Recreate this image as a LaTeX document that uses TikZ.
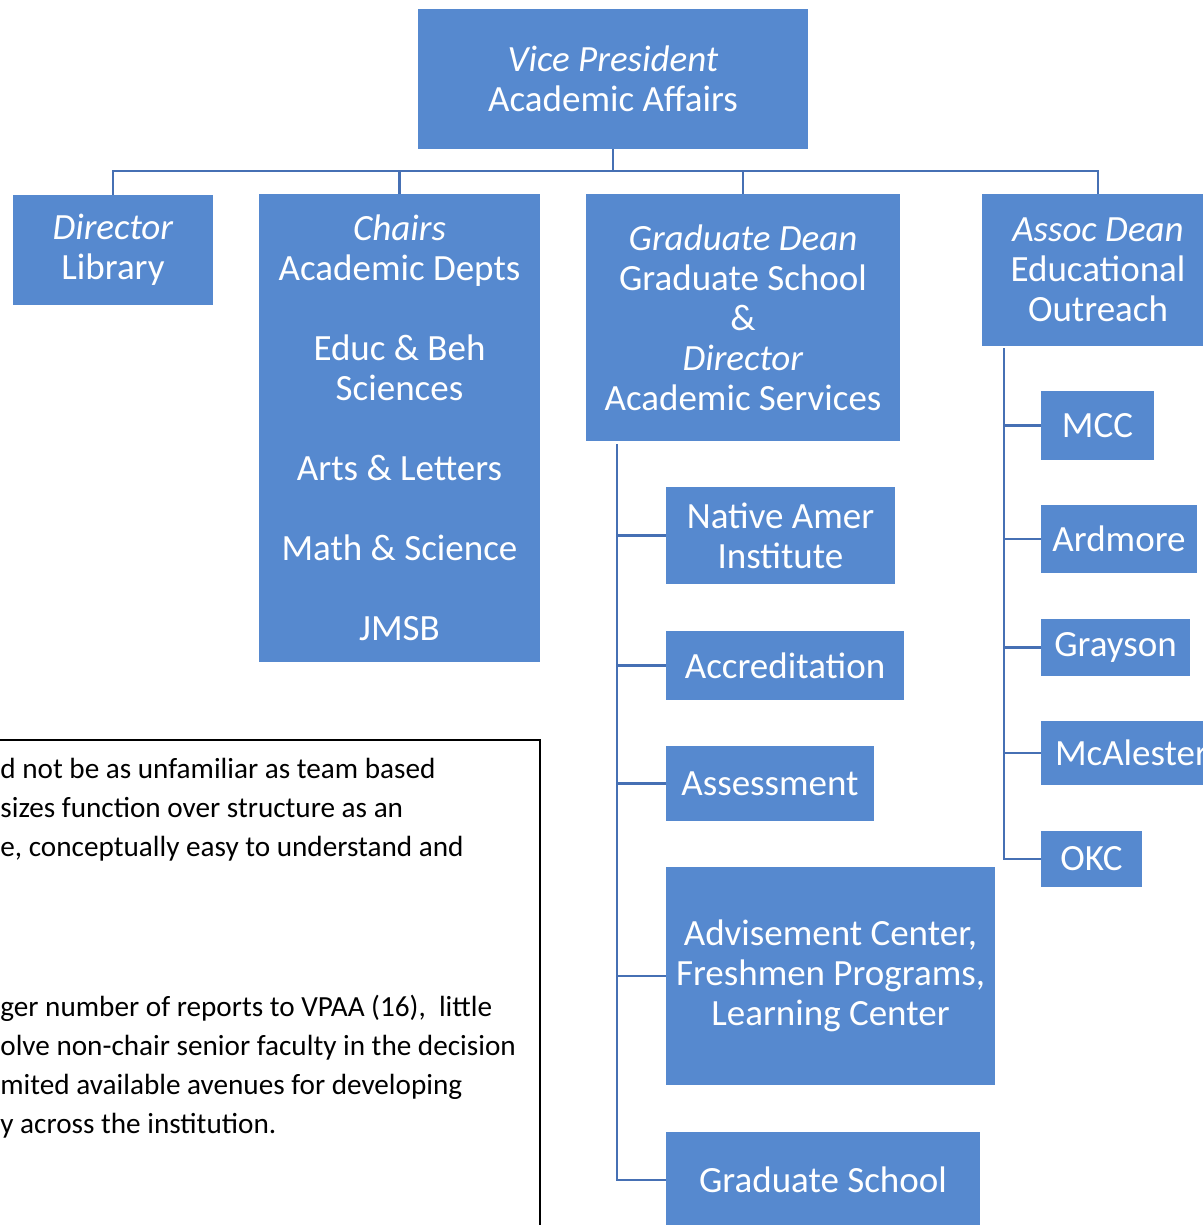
\documentclass[tikz,border=0pt]{standalone}
\usepackage{fontspec}
\setmainfont{Carlito}
\usetikzlibrary{positioning}

\definecolor{unitfill}{RGB}{86,137,207}
\definecolor{linkcol}{RGB}{70,112,180}

\tikzset{
    unit/.style={fill=unitfill, text=white, align=center, inner sep=2pt,
        font=\fontsize{18.5}{20}\selectfont},
    link/.style={draw=linkcol, line width=1.2pt},
    notetext/.style={align=left, anchor=north west, inner sep=0pt,
        font=\fontsize{14.6}{19.5}\selectfont}
}

\begin{document}
\begin{tikzpicture}[x=0.5pt, y=-0.5pt]
                \useasboundingbox (0,0) rectangle (1203,1225);
                \clip (0,0) rectangle (1203,1225);

                % top level
                \node[unit, minimum width=195pt, minimum height=70pt] (vp) at (613,79) {\textit{Vice President}\\Academic Affairs};

                \node[unit, minimum width=100pt, minimum height=55pt] (lib) at (113,250) {\textit{Director}\\Library};
                \node[unit, minimum width=140.5pt, minimum height=233.5pt] (chairs) at (399.5,428) {\textit{Chairs}\\Academic Depts\\[20pt]Educ \& Beh\\Sciences\\[20pt]Arts \& Letters\\[20pt]Math \& Science\\[20pt]JMSB};
                \node[unit, minimum width=157pt, minimum height=123pt] (gd) at (743,317.5) {\textit{Graduate Dean}\\Graduate School\\\&\\\textit{Director}\\Academic Services};
                \node[unit, minimum width=116pt, minimum height=75.5pt] (ad) at (1098,270) {\textit{Assoc Dean}\\Educational\\Outreach};

                % graduate school units
                \node[unit, minimum width=114.5pt, minimum height=48.5pt] (nai) at (780.5,535.5) {Native Amer\\Institute};
                \node[unit, minimum width=119pt, minimum height=34.5pt] (accr) at (785,665.5) {Accreditation};
                \node[unit, minimum width=104pt, minimum height=37.5pt] (assess) at (770,783.5) {Assessment};
                \node[unit, minimum width=164.5pt, minimum height=109pt] (advise) at (830.5,976) {Advisement Center,\\Freshmen Programs,\\Learning Center};
                \node[unit, minimum width=157pt, minimum height=48pt] (gs) at (823,1180) {Graduate School};

                % outreach campuses
                \node[unit, minimum width=56.5pt, minimum height=34.5pt] (mcc) at (1097.5,425.5) {MCC};
                \node[unit, minimum width=78pt, minimum height=34pt] (ard) at (1119,539) {Ardmore};
                \node[unit, minimum width=74.5pt, minimum height=28.5pt] (gray) at (1115.5,647.5) {Grayson};
                \node[unit, minimum width=90.5pt, minimum height=32pt] (mcal) at (1131.5,753) {McAlester};
                \node[unit, minimum width=50.5pt, minimum height=28pt] (okc) at (1091.5,859) {OKC};

                % connectors
                \coordinate (bus) at (613,171);
                \draw[link] (vp.south) -- (bus) -| (lib.north);
                \draw[link] (bus) -| (chairs.north);
                \draw[link] (bus) -| (gd.north);
                \draw[link] (bus) -| (ad.north);

                \coordinate (gdspine) at (617,444);
                \foreach \n in {nai,accr,assess,advise,gs}
                    \draw[link] (gdspine) |- (\n.west);

                \coordinate (adspine) at (1004,348);
                \foreach \n in {mcc,ard,gray,mcal,okc}
                    \draw[link] (adspine) |- (\n.west);

                % note box
                \draw[line width=1pt] (-10,740) rectangle (540,1240);
                \node[notetext] (note1) at (0,758) {d not be as unfamiliar as team based\\sizes function over structure as an\\e, conceptually easy to understand and};
                \node[notetext] (note2) at (0,995) {ger number of reports to VPAA (16),~ little\\olve non-chair senior faculty in the decision\\mited available avenues for developing\\y across the institution.};
            \end{tikzpicture}
\end{document}
